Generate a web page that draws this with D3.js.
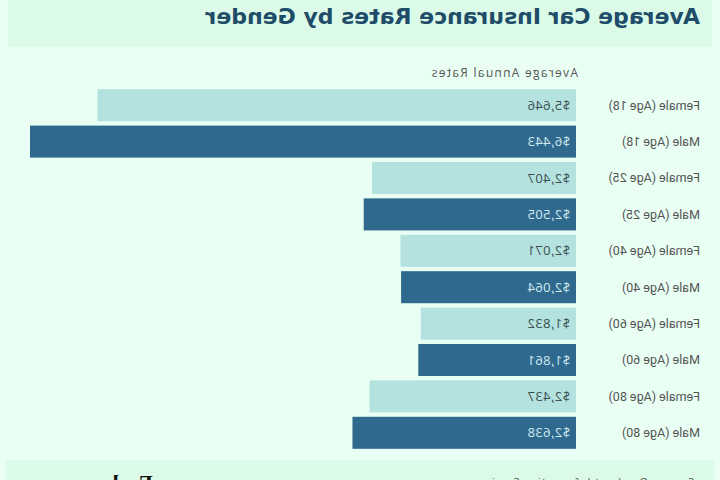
<!DOCTYPE html>
<html>
<head>
<meta charset="utf-8">
<script src="https://cdn.jsdelivr.net/npm/d3@7"></script>
<style>
  body { margin: 0; background: #eafff4; }
  svg { display: block; font-family: "Open Sans", sans-serif; }
</style>
</head>
<body>
<svg id="chart" width="720" height="480"></svg>
<script>
const categories = [
    "Female (Age 18)", "Male (Age 18)",
    "Female (Age 25)", "Male (Age 25)",
    "Female (Age 40)", "Male (Age 40)",
    "Female (Age 60)", "Male (Age 60)",
    "Female (Age 80)", "Male (Age 80)"
];
const rates = [5646, 6443, 2407, 2505, 2071, 2064, 1832, 1861, 2437, 2638];
const genders = ["Female", "Male", "Female", "Male", "Female", "Male", "Female", "Male", "Female", "Male"];

const colors = { Female: "#b3e2df", Male: "#2f6a8e" };
const textColors = { Female: "#3a4f50", Male: "#d3e9f0" };

const svg = d3.select("#chart");

// the reference picture is mirrored left-right, so the whole drawing is flipped
const root = svg.append("g")
    .attr("transform", "translate(720,0) scale(-1,1)");

root.append("rect")
    .attr("x", 0).attr("y", 0)
    .attr("width", 720).attr("height", 480)
    .attr("fill", "#eafff4");

// header band
root.append("rect")
    .attr("x", 8).attr("y", -4)
    .attr("width", 704).attr("height", 51)
    .attr("fill", "#dbfbe8");

root.append("text")
    .attr("x", 20)
    .attr("y", 24)
    .attr("fill", "#1f4c69")
    .style("font-family", "'DejaVu Sans', sans-serif")
    .style("font-weight", "700")
    .style("font-size", "22px")
    .text("Average Car Insurance Rates by Gender");

// footer band
root.append("rect")
    .attr("x", 6).attr("y", 460)
    .attr("width", 708).attr("height", 30)
    .attr("fill", "#dbfbe8");

root.append("text")
    .attr("x", 26)
    .attr("y", 486)
    .attr("fill", "#555")
    .style("font-size", "11px")
    .style("letter-spacing", "0.6px")
    .text("Source: Quadrant Information Services");

root.append("text")
    .attr("x", 632)
    .attr("y", 490)
    .attr("text-anchor", "end")
    .attr("fill", "#111")
    .style("font-family", "'Liberation Serif', serif")
    .style("font-weight", "700")
    .style("font-size", "22px")
    .text("Forbes");

const x = d3.scaleLinear()
    .domain([0, d3.max(rates)])
    .range([144, 690]);

const y = d3.scaleBand()
    .domain(categories)
    .range([87, 451])
    .paddingInner(0.12)
    .paddingOuter(0.06);

root.append("text")
    .attr("x", 142)
    .attr("y", 77)
    .attr("fill", "#555")
    .style("font-size", "12px")
    .style("letter-spacing", "1.3px")
    .text("Average Annual Rates");

const rows = root.selectAll("g.row")
    .data(categories.map((c, i) => ({ cat: c, value: rates[i], gender: genders[i] })))
    .enter().append("g")
    .attr("class", "row");

rows.append("rect")
    .attr("x", x(0))
    .attr("y", d => y(d.cat))
    .attr("width", d => x(d.value) - x(0))
    .attr("height", y.bandwidth())
    .attr("fill", d => colors[d.gender]);

rows.append("text")
    .attr("x", 20)
    .attr("y", d => y(d.cat) + y.bandwidth() / 2)
    .attr("dy", "0.35em")
    .attr("fill", "#555")
    .style("font-family", "Roboto, sans-serif")
    .style("font-size", "12.5px")
    .text(d => d.cat);

rows.append("text")
    .attr("x", x(0) + 6)
    .attr("y", d => y(d.cat) + y.bandwidth() / 2)
    .attr("dy", "0.35em")
    .attr("fill", d => textColors[d.gender])
    .style("font-size", "13px")
    .style("letter-spacing", "0.4px")
    .text(d => d3.format("$,")(d.value));
</script>
</body>
</html>
